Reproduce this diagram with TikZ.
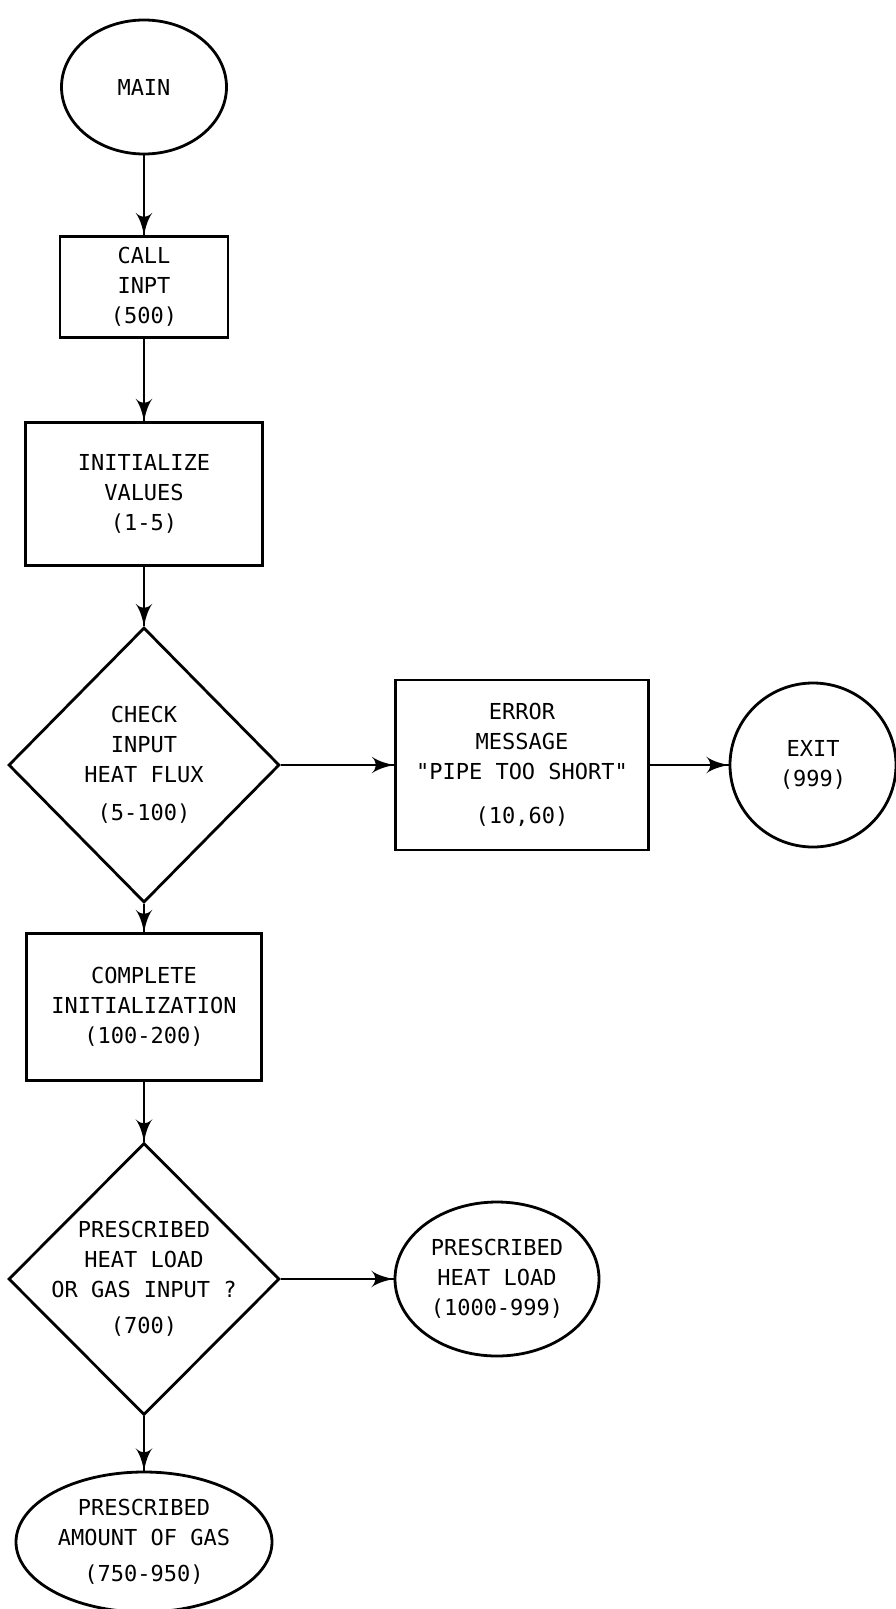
\documentclass[tikz,border=0pt]{standalone}
\usepackage{fontspec}
\setmonofont{DejaVu Sans Mono}
\usetikzlibrary{arrows}
\usetikzlibrary{decorations.markings}
\usetikzlibrary{shapes.geometric}
\tikzset{->/.style = {decoration={markings,
                                  mark=at position 1 with {\arrow[scale=2]{latex'}}},
                      postaction={decorate}}}
\tikzset{proc/.style = {draw, rectangle, inner sep = 0}}
\tikzset{decide/.style = {draw, diamond, inner sep = 0, minimum width = 271, minimum height = 275}}
\tikzset{term/.style = {draw, ellipse, inner sep = 0}}

\begin{document}
\begin{tikzpicture}[x=1pt, y=-1pt, line width=2.8pt,
    every node/.style={font=\ttfamily\fontsize{22}{30}\selectfont, align=center}]
    \useasboundingbox (0, 0) rectangle (896, 1609);

    \node [term, minimum width=165, minimum height=134] (main) at (144, 87) {MAIN};
    \node [proc, minimum width=168, minimum height=101] (call) at (144, 287) {CALL\\INPT\\(500)};
    \node [proc, minimum width=237, minimum height=143] (init) at (144, 494) {INITIALIZE\\VALUES\\(1-5)};
    \node [decide] (check) at (144, 765) {};
    \node (checktxt) at (check) {CHECK\\INPUT\\HEAT FLUX\\[8pt](5-100)};
    \node [proc, minimum width=253, minimum height=170] (error) at (522, 765) {ERROR\\MESSAGE\\"PIPE TOO SHORT"\\[14pt](10,60)};
    \node [term, minimum width=166, minimum height=164] (exit) at (813, 765) {EXIT\\(999)};
    \node [proc, minimum width=235, minimum height=147] (compl) at (144, 1007) {COMPLETE\\INITIALIZATION\\(100-200)};
    \node [decide, minimum height=272] (prescr) at (144, 1279) {};
    \node (prescrtxt) at (prescr) {PRESCRIBED\\HEAT LOAD\\OR GAS INPUT ?\\[6pt](700)};
    \node [term, minimum width=204, minimum height=154] (heat) at (497, 1279) {PRESCRIBED\\HEAT LOAD\\(1000-999)};
    \node [term, minimum width=256, minimum height=140] (gas) at (144, 1542) {PRESCRIBED\\AMOUNT OF GAS\\[6pt](750-950)};

    \draw [->] (main) -- (call);
    \draw [->] (call) -- (init);
    \draw [->] (init) -- (check);
    \draw [->] (check) -- (error);
    \draw [->] (error) -- (exit);
    \draw [->] (check) -- (compl);
    \draw [->] (compl) -- (prescr);
    \draw [->] (prescr) -- (heat);
    \draw [->] (prescr) -- (gas);
\end{tikzpicture}
\end{document}
